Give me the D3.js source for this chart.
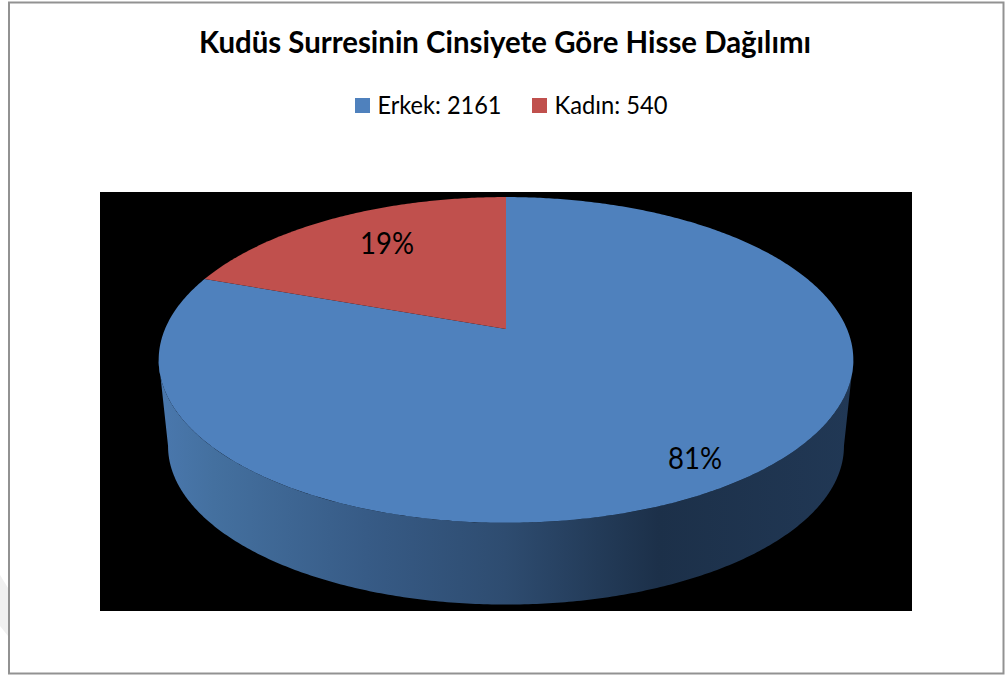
<!DOCTYPE html>
<meta charset="utf-8">
<style>
body { margin: 0; background: #fff; }
text { font-family: Lato, "Open Sans", sans-serif; fill: #000; }
.title { font-size: 30px; font-weight: 700; }
.legend text { font-size: 25px; }
.pct { font-size: 30px; }
</style>
<body>
<div id="chart"></div>
<script src="https://d3js.org/d3.v7.min.js"></script>
<script>
var chartTitle = "Kudüs Surresinin Cinsiyete Göre Hisse Dağılımı";
var categories = ["Erkek", "Kadın"];
var counts = [2161, 540];
var sliceShares = [80.5, 19.5];
var percentLabels = ["81%", "19%"];
var colors = ["#4f81bd", "#c0504d"];

var width = 1006, height = 675;
var svg = d3.select("#chart").append("svg")
    .attr("width", width)
    .attr("height", height)
    .style("display", "block");

// faint watermark showing at the lower left edge
svg.append("path").attr("d", "M0,575L8,588V636L0,626Z").attr("fill", "#f0f0f0");

// chart frame and black plot area
svg.append("rect").attr("x", 9).attr("y", 2.5).attr("width", 994.5).attr("height", 671)
    .attr("fill", "none").attr("stroke", "#929292").attr("stroke-width", 2);
svg.append("rect").attr("x", 100).attr("y", 192).attr("width", 812).attr("height", 419).attr("fill", "#000");

svg.append("text").attr("class", "title")
    .attr("x", 505).attr("y", 53)
    .attr("text-anchor", "middle")
    .attr("textLength", 612).attr("lengthAdjust", "spacingAndGlyphs")
    .text(chartTitle);

// legend
var legendX = [355, 532], legendW = [124, 113];
var legend = svg.append("g").attr("class", "legend").selectAll("g")
    .data(categories).enter().append("g")
    .attr("transform", function(d, i) { return "translate(" + legendX[i] + ",98)"; });
legend.append("rect").attr("width", 15).attr("height", 15)
    .attr("fill", function(d, i) { return colors[i]; });
legend.append("text").attr("x", 22.5).attr("y", 15.5)
    .attr("textLength", function(d, i) { return legendW[i]; })
    .attr("lengthAdjust", "spacingAndGlyphs")
    .text(function(d, i) { return d + ": " + counts[i]; });

// pie seen in perspective: k is the foreshortening of the disc
var k = 0.19;
var sx = d3.scaleLinear().domain([-1, 1]).range([165, 847]);
var sy = d3.scaleLinear().domain([-1, 1]).range([172, 486]);
function project(angle, level) {
    var X = Math.sin(angle), Y = -Math.cos(angle), w = 1 - k * Y;
    var shrink = level ? 0.973 : 1;
    var x = sx(0) + (sx(X) - sx(0)) / w * shrink;
    var y = sy(0) + (sy(Y) - sy(0)) / w * shrink + (level ? 87 : 0);
    return [x, y];
}
function arcPoints(a0, a1, level) {
    var n = Math.max(2, Math.ceil(Math.abs(a1 - a0) / 0.01));
    return d3.range(n + 1).map(function(i) { return project(a0 + (a1 - a0) * i / n, level); });
}
var line = d3.line();

var grad = svg.append("defs").append("linearGradient").attr("id", "wall")
    .attr("gradientUnits", "userSpaceOnUse")
    .attr("x1", 158).attr("x2", 853).attr("y1", 0).attr("y2", 0);
[[0, "#4a78ae"], [0.08, "#44709f"], [0.3, "#375b86"], [0.5, "#2e4c70"], [0.72, "#1c3049"], [1, "#213855"]]
    .forEach(function(s) { grad.append("stop").attr("offset", s[0]).attr("stop-color", s[1]); });

// front wall, from the right edge round to the left edge
var aRight = Math.PI / 2 + 0.19, aLeft = 3 * Math.PI / 2 - 0.19;
svg.append("path")
    .attr("d", line(arcPoints(aRight, aLeft, 0).concat(arcPoints(aLeft, aRight, 1))) + "Z")
    .attr("fill", "url(#wall)");

var slices = d3.pie().sort(null)(sliceShares);
var apex = [sx(0), sy(0)];
svg.selectAll("path.slice").data(slices).enter().append("path")
    .attr("class", "slice")
    .attr("fill", function(d, i) { return colors[i]; })
    .attr("d", function(d) { return line([apex].concat(arcPoints(d.startAngle, d.endAngle, 0))) + "Z"; });

var labelPos = [[695, 469], [387, 254]];
svg.selectAll("text.pct").data(percentLabels).enter().append("text")
    .attr("class", "pct")
    .attr("text-anchor", "middle")
    .attr("x", function(d, i) { return labelPos[i][0]; })
    .attr("y", function(d, i) { return labelPos[i][1]; })
    .attr("textLength", 54).attr("lengthAdjust", "spacingAndGlyphs")
    .text(function(d) { return d; });
</script>
</body>
